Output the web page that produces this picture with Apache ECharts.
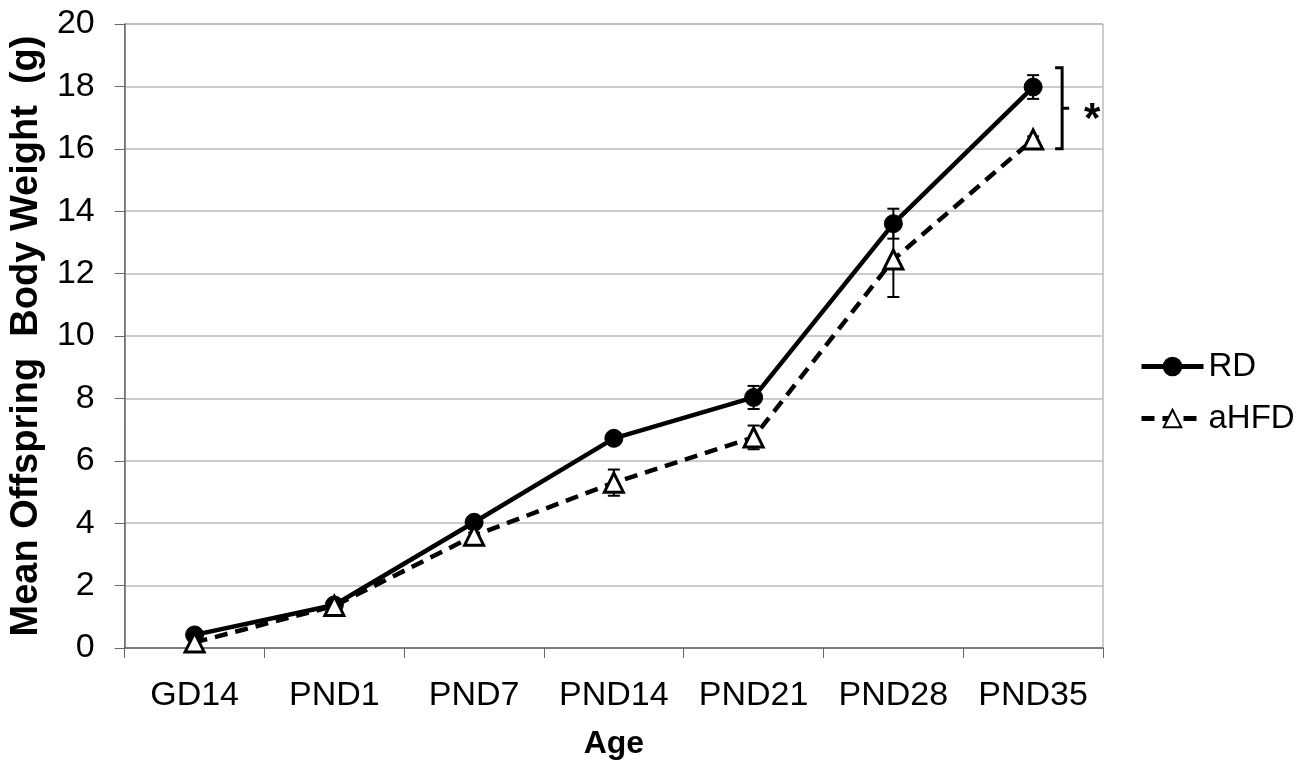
<!DOCTYPE html>
<html>
<head>
<meta charset="utf-8">
<script src="https://cdn.jsdelivr.net/npm/echarts@6/dist/echarts.min.js"></script>
<style>
  html, body { margin: 0; padding: 0; background: #fff; }
  #chart { width: 1304px; height: 765px; }
</style>
</head>
<body>
<div id="chart"></div>
<script>
const ages = ['GD14', 'PND1', 'PND7', 'PND14', 'PND21', 'PND28', 'PND35']
const rdMean = [0.42, 1.38, 4.03, 6.72, 8.03, 13.6, 17.98]
const rdErr = [0.05, 0.08, 0.1, 0.12, 0.37, 0.48, 0.38]
const hfdMean = [0.18, 1.35, 3.6, 5.3, 6.75, 12.45, 16.3]
const hfdErr = [0.05, 0.08, 0.1, 0.42, 0.38, 1.2, 0.1]
const yTicks = [0, 20, 2]
// bracket marking the significant difference at PND35
const bracket = [6, 18.6, 16.0]

let chart = echarts.init(document.getElementById('chart'))
const font = 'Liberation Sans, Arial, sans-serif'

function errorItem (params, api) {
  let x = api.value(0)
  let lo = api.coord([x, api.value(1) - api.value(2)])
  let hi = api.coord([x, api.value(1) + api.value(2)])
  let cap = 6
  let style = { stroke: '#000', lineWidth: 2 }
  return {
    type: 'group',
    children: [
      { type: 'line', shape: { x1: lo[0], y1: lo[1], x2: hi[0], y2: hi[1] }, style: style },
      { type: 'line', shape: { x1: lo[0] - cap, y1: lo[1], x2: lo[0] + cap, y2: lo[1] }, style: style },
      { type: 'line', shape: { x1: hi[0] - cap, y1: hi[1], x2: hi[0] + cap, y2: hi[1] }, style: style }
    ]
  }
}

chart.setOption({
  animation: false,
  textStyle: { fontFamily: font },
  grid: {
    left: 123, right: 201, top: 24, bottom: 116,
    show: true, borderColor: '#999', borderWidth: 1
  },
  legend: {
    orient: 'vertical',
    left: 1134, top: 345,
    itemGap: 19,
    itemWidth: 62, itemHeight: 22,
    textStyle: { fontSize: 33, color: '#000' },
    lineStyle: { width: 5 },
    data: ['RD', 'aHFD']
  },
  xAxis: {
    type: 'category',
    data: ages,
    boundaryGap: true,
    name: 'Age',
    nameLocation: 'middle',
    nameGap: 80,
    nameTextStyle: { fontSize: 32, fontWeight: 'bold', color: '#000' },
    axisLine: { lineStyle: { color: '#666', width: 1.5 } },
    axisTick: { show: true, length: 10, interval: 0, lineStyle: { color: '#666' } },
    axisLabel: { fontSize: 34, color: '#000', margin: 31, interval: 0 }
  },
  yAxis: {
    type: 'value',
    min: yTicks[0], max: yTicks[1], interval: yTicks[2],
    name: 'Mean Offspring  Body Weight  (g)',
    nameLocation: 'middle',
    nameGap: 74,
    nameTextStyle: { fontSize: 38, fontWeight: 'bold', color: '#000' },
    axisLine: { show: true, lineStyle: { color: '#666', width: 1.5 } },
    axisTick: { show: true, length: 10, lineStyle: { color: '#666' } },
    axisLabel: { fontSize: 34, color: '#000', margin: 30 },
    splitLine: { lineStyle: { color: '#bbb', width: 1.5 } }
  },
  series: [
    {
      name: 'RD-err', type: 'custom', renderItem: errorItem, z: 3,
      data: rdMean.map((v, i) => [i, v, rdErr[i]])
    },
    {
      name: 'aHFD-err', type: 'custom', renderItem: errorItem, z: 3,
      data: hfdMean.map((v, i) => [i, v, hfdErr[i]])
    },
    {
      name: 'RD', type: 'line', data: rdMean, z: 4,
      symbol: 'circle', symbolSize: 18,
      lineStyle: { color: '#000', width: 4.5 },
      itemStyle: { color: '#000', borderColor: '#000', borderWidth: 1 }
    },
    {
      name: 'aHFD', type: 'line', data: hfdMean, z: 5,
      symbol: 'triangle', symbolSize: 19,
      lineStyle: { color: '#000', width: 4.5, type: [13, 8] },
      itemStyle: { color: '#fff', borderColor: '#000', borderWidth: 3 }
    },
    {
      name: 'bracket', type: 'custom', z: 6,
      data: [bracket],
      renderItem: function (params, api) {
        let top = api.coord([api.value(0), api.value(1)])
        let bot = api.coord([api.value(0), api.value(2)])
        let x = top[0] + 29
        let mid = (top[1] + bot[1]) / 2
        let style = { stroke: '#000', lineWidth: 3, fill: null }
        return {
          type: 'group',
          children: [
            { type: 'polyline', shape: { points: [[x - 7, top[1]], [x, top[1]], [x, bot[1]], [x - 7, bot[1]]] }, style: style },
            { type: 'line', shape: { x1: x, y1: mid, x2: x + 7, y2: mid }, style: style },
            { type: 'text', x: x + 30, y: mid + 12, style: { text: '*', fontSize: 42, fontWeight: 'bold', fill: '#000', align: 'center', verticalAlign: 'middle', fontFamily: font } }
          ]
        }
      }
    }
  ]
})
</script>
</body>
</html>
